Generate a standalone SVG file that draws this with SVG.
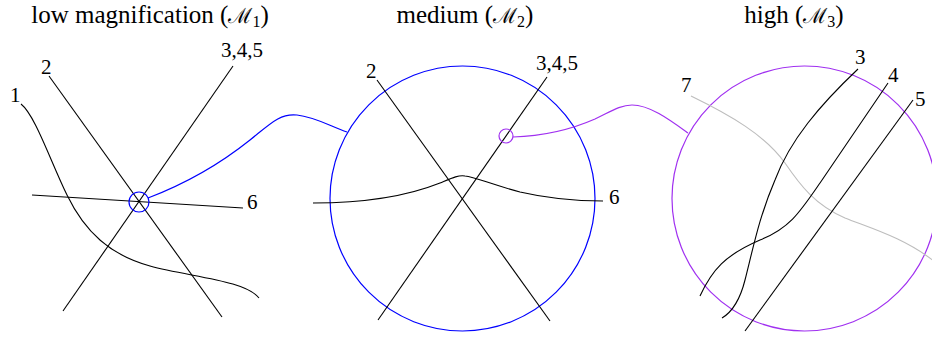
<svg xmlns="http://www.w3.org/2000/svg" width="932" height="341" viewBox="0 0 932 341">
<style>
.t{font-family:"Liberation Serif","Times New Roman",serif;font-size:25px;fill:#000;text-anchor:middle}
.l{font-family:"Liberation Serif","Times New Roman",serif;font-size:21px;fill:#000}
.m{font-family:"DejaVu Serif","Liberation Serif",serif;font-size:21px}
.k{fill:none;stroke:#000;stroke-width:1.1}
.g{fill:none;stroke:#bdbdbd;stroke-width:1.1}
.b{fill:none;stroke:#0000ff;stroke-width:1.2}
.p{fill:none;stroke:#a030f0;stroke-width:1.2}
</style>
<rect width="932" height="341" fill="#fff"/>
<g id="panel1">
<text class="t" x="150" y="23">low magnification (<tspan class="m">ℳ</tspan><tspan font-size="16" dy="4">1</tspan><tspan dy="-4">)</tspan></text>
<path class="k" d="M49,76 L222,317"/>
<path class="k" d="M233,66 L63,311"/>
<path class="k" d="M32,195 L243,208"/>
<path class="k" d="M21,104 C35,115 50,160 67,195 C85,232 110,255 150,266 C190,277 245,280 259,298"/>
<circle class="b" cx="139" cy="202" r="10"/>
<text class="l" x="10" y="102">1</text>
<text class="l" x="41" y="74">2</text>
<text class="l" x="221" y="57">3,4,5</text>
<text class="l" x="247" y="209">6</text>
</g>
<g id="panel2">
<text class="t" x="465" y="23">medium (<tspan class="m">ℳ</tspan><tspan font-size="16" dy="4">2</tspan><tspan dy="-4">)</tspan></text>
<circle class="b" cx="462.5" cy="198.5" r="132.5"/>
<path class="k" d="M377,80 L550,321"/>
<path class="k" d="M547,77 L378,320"/>
<path class="k" d="M313,203 C370,203 410,195 440,183 C452,178 458,175 465,176 C475,177 490,184 520,192 C550,199 580,201 603,201"/>
<circle class="p" cx="506" cy="136" r="7"/>
<text class="l" x="366" y="78">2</text>
<text class="l" x="536" y="70">3,4,5</text>
<text class="l" x="609" y="204">6</text>
</g>
<g id="panel3">
<text class="t" x="794" y="23">high (<tspan class="m">ℳ</tspan><tspan font-size="16" dy="4">3</tspan><tspan dy="-4">)</tspan></text>
<circle class="p" cx="804.5" cy="198.5" r="132.5"/>
<path class="g" d="M691,96 C730,115 765,135 785,163 C800,185 815,205 845,218 C870,228 905,238 935,262"/>
<path class="k" d="M858,69 C820,105 790,140 775,180 C760,215 755,240 745,280 C740,300 732,312 722,318"/>
<path class="k" d="M888,83 L820,183 C800,212 790,228 760,240 C725,255 712,270 700,296"/>
<path class="k" d="M913,100 L745,331"/>
<text class="l" x="855" y="64">3</text>
<text class="l" x="888" y="82">4</text>
<text class="l" x="915" y="106">5</text>
<text class="l" x="681" y="92">7</text>
</g>
<g id="connectors">
<path class="b" d="M148,198 C190,182 225,160 250,140 C270,124 280,113 297,115 C315,117 330,126 347,132"/>
<path class="p" d="M513,137 C545,136 570,130 595,119 C610,112 620,105 632,105 C650,105 670,120 688,133"/>
</g>
</svg>
